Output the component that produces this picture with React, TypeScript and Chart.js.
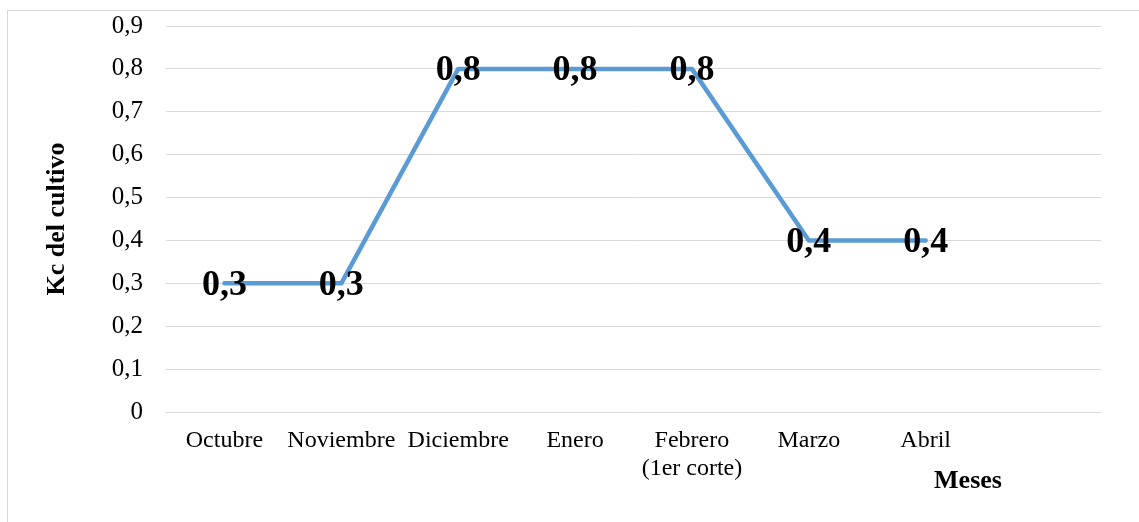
import React, { useEffect, useRef } from "react";
import { Chart, registerables } from "chart.js";

Chart.register(...registerables);

const categories: (string | string[])[] = [
  "Octubre",
  "Noviembre",
  "Diciembre",
  "Enero",
  ["Febrero", "(1er corte)"],
  "Marzo",
  "Abril",
  "",
];
const kcValues: (number | null)[] = [0.3, 0.3, 0.8, 0.8, 0.8, 0.4, 0.4, null];
const yTickLabels: string[] = ["0", "0,1", "0,2", "0,3", "0,4", "0,5", "0,6", "0,7", "0,8", "0,9"];
const yTitle = "Kc del cultivo";
const xTitle = "Meses";

const SERIF = "'Liberation Serif', 'Times New Roman', serif";

const fmt = (v: number) => (v === 0 ? "0" : v.toFixed(1).replace(".", ","));

const labelsPlugin = {
  id: "customLabels",
  afterDatasetsDraw(chart: any) {
    const ctx = chart.ctx;
    const meta = chart.getDatasetMeta(0);
    const data = chart.data.datasets[0].data;
    ctx.save();
    ctx.font = `bold 36px ${SERIF}`;
    ctx.fillStyle = "#000";
    ctx.textAlign = "center";
    ctx.textBaseline = "middle";
    meta.data.forEach((pt: any, i: number) => {
      const v = data[i];
      if (v === null || v === undefined) return;
      ctx.fillText(fmt(v), pt.x, pt.y + 2);
    });
    ctx.restore();
  },
  afterDraw(chart: any) {
    const ctx = chart.ctx;
    const area = chart.chartArea;
    ctx.save();
    ctx.fillStyle = "#000";
    ctx.font = `bold 26px ${SERIF}`;
    ctx.textAlign = "center";
    ctx.textBaseline = "middle";
    ctx.translate(57, (area.top + area.bottom) / 2);
    ctx.rotate(-Math.PI / 2);
    ctx.fillText(yTitle, 0, 0);
    ctx.restore();
    ctx.save();
    ctx.fillStyle = "#000";
    ctx.font = `bold 26px ${SERIF}`;
    ctx.textAlign = "center";
    ctx.textBaseline = "middle";
    ctx.fillText(xTitle, 968, 481);
    ctx.restore();
  },
};

export default function App() {
  const canvasRef = useRef<HTMLCanvasElement | null>(null);

  useEffect(() => {
    if (!canvasRef.current) return;
    const chart = new Chart(canvasRef.current, {
      type: "line",
      data: {
        labels: categories as any,
        datasets: [
          {
            data: kcValues,
            borderColor: "#5B9BD5",
            backgroundColor: "#5B9BD5",
            borderWidth: 4.5,
            pointRadius: 0,
            tension: 0,
            spanGaps: false,
            borderCapStyle: "round",
            borderJoinStyle: "round",
          },
        ],
      },
      options: {
        responsive: false,
        animation: false,
        maintainAspectRatio: false,
        layout: { padding: { left: 0, right: 38, top: 26, bottom: 0 } },
        plugins: {
          legend: { display: false },
          tooltip: { enabled: false },
          title: { display: false },
        },
        scales: {
          x: {
            type: "category",
            offset: true,
            grid: { display: false, drawTicks: false },
            border: { display: false },
            ticks: {
              color: "#000",
              font: { family: SERIF, size: 24 },
              padding: 14,
              maxRotation: 0,
              autoSkip: false,
            },
            afterFit: (scale: any) => {
              scale.height = 110;
              scale.paddingLeft = 0;
              scale.paddingRight = 0;
            },
          },
          y: {
            min: 0,
            max: 0.9,
            grid: { color: "#d9d9d9", lineWidth: 1, drawTicks: false },
            border: { display: false },
            ticks: {
              stepSize: 0.1,
              color: "#000",
              font: { family: SERIF, size: 25 },
              padding: 23,
              callback: (_v: any, i: number) => yTickLabels[i],
            },
            afterFit: (scale: any) => {
              scale.width = 166;
              scale.paddingTop = 0;
              scale.paddingBottom = 0;
            },
          },
        },
      },
      plugins: [labelsPlugin],
    });
    return () => chart.destroy();
  }, []);

  return (
    <div style={{ position: "fixed", left: 0, top: 0, width: 1139, height: 522, background: "#fff", overflow: "hidden" }}>
      <div
        style={{
          position: "absolute",
          left: 7,
          top: 10,
          width: 1200,
          height: 600,
          borderTop: "1px solid #d9d9d9",
          borderLeft: "1px solid #d9d9d9",
        }}
      />
      <canvas
        ref={canvasRef}
        width={1139}
        height={522}
        style={{ position: "absolute", left: 0, top: 0, width: 1139, height: 522 }}
      />
    </div>
  );
}
